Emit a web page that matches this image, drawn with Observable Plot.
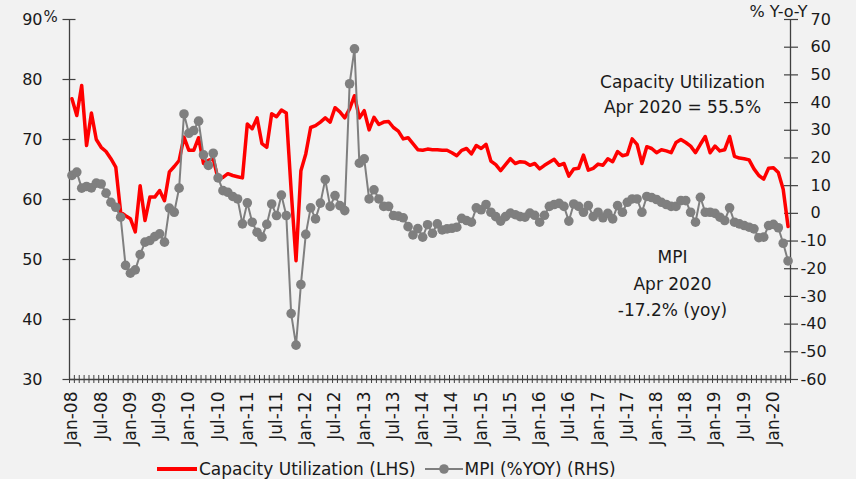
<!DOCTYPE html>
<html>
<head>
<meta charset="utf-8">
<script src="https://cdn.jsdelivr.net/npm/d3@7"></script>
<script src="https://cdn.jsdelivr.net/npm/@observablehq/plot@0.6"></script>
<style>
  html, body { margin: 0; padding: 0; background: #f2f2f2; }
  #chart { position: relative; width: 856px; height: 479px; overflow: hidden; background: #f2f2f2;
           font-family: "DejaVu Sans", sans-serif; color: #1a1a1a; }
  #legend { position: absolute; left: 157px; top: 457px; height: 24px; display: flex; align-items: center;
            font-size: 17px; white-space: nowrap; }
  #legend svg { display: block; }
  .lg-item { display: flex; align-items: center; }
</style>
</head>
<body>
<div id="chart"></div>
<script>
// ---- Data (monthly, Jan-08 .. Apr-20) ----
const capacity = [
  76.8, 74.0, 79.0, 69.0, 74.4, 70.0, 68.7, 68.0, 66.8, 65.4,
  57.9, 57.3, 56.8, 54.6, 62.3, 56.5, 60.4, 60.4, 61.5, 59.8,
  64.6, 65.5, 66.5, 70.4, 68.2, 68.2, 70.3, 66.0, 66.5, 66.8,
  63.4, 63.7, 64.3, 64.0, 63.8, 63.6, 72.6, 71.8, 73.6, 69.3,
  68.7, 74.3, 73.8, 74.9, 74.4, 61.5, 49.8, 64.8, 67.6, 72.0,
  72.3, 72.9, 73.6, 72.9, 75.3, 74.6, 73.6, 75.1, 77.3, 73.6,
  74.8, 71.6, 73.7, 72.5, 72.9, 73.0, 72.0, 71.4, 70.1, 70.3,
  69.3, 68.3, 68.2, 68.4, 68.3, 68.3, 68.2, 68.2, 67.8, 67.3,
  68.2, 68.5, 67.6, 69.0, 68.5, 69.2, 66.4, 65.8, 64.8, 65.8,
  66.8, 66.0, 66.3, 66.2, 65.7, 66.0, 65.1, 65.7, 66.2, 66.7,
  65.7, 66.0, 63.9, 65.1, 65.2, 67.4, 64.9, 65.2, 65.9, 65.7,
  66.8, 66.3, 68.0, 67.3, 67.5, 70.1, 69.2, 66.0, 68.8, 68.5,
  67.8, 68.3, 68.1, 67.8, 69.5, 70.0, 69.5, 68.9, 67.8, 69.2,
  70.5, 67.8, 68.9, 68.1, 68.3, 70.5, 67.2, 66.9, 66.8, 66.6,
  65.1, 64.0, 63.4, 65.2, 65.3, 64.5, 61.7, 55.5
];
const mpi = [
  13.7, 14.9, 9.1, 9.7, 9.2, 10.9, 10.6, 7.3, 4.0, 2.2,
  -1.4, -18.8, -21.6, -20.4, -14.9, -10.4, -9.8, -8.4, -7.4, -10.4,
  1.9, 0.4, 9.1, 35.9, 28.9, 29.9, 33.3, 21.1, 17.3, 21.7,
  12.8, 8.2, 7.6, 6.1, 5.2, -3.8, 3.8, -3.2, -6.8, -8.6,
  -4.0, 3.4, -0.8, 6.6, -0.8, -36.2, -47.6, -25.7, -7.6, 2.0,
  -2.0, 3.7, 12.2, 2.5, 6.4, 2.8, 1.0, 46.8, 59.4, 18.1,
  19.7, 5.2, 8.5, 5.2, 2.5, 2.5, -0.8, -1.0, -1.6, -4.8,
  -7.8, -5.5, -8.6, -4.1, -7.2, -3.8, -6.0, -5.6, -5.4, -5.0,
  -1.8, -2.6, -3.2, 2.0, 1.3, 3.2, 0.4, -1.2, -2.8, -1.2,
  0.1, -0.5, -1.2, -1.4, 0.1, -0.7, -3.2, -0.7, 2.5, 3.2,
  3.6, 2.5, -2.8, 3.4, 2.5, 0.4, 2.8, -1.2, 0.4, -1.6,
  0.0, -2.0, 2.8, 0.4, 4.0, 5.2, 5.2, 0.4, 6.1, 5.7,
  5.0, 4.0, 3.2, 2.5, 2.5, 4.6, 4.6, 0.4, -3.2, 5.8,
  0.4, 0.4, 0.0, -1.4, -2.6, 2.0, -3.2, -3.8, -4.4, -5.0,
  -5.6, -8.8, -8.6, -4.4, -4.0, -5.2, -10.8, -17.2
];
const tickLabels = [
  "Jan-08","Jul-08","Jan-09","Jul-09","Jan-10","Jul-10","Jan-11","Jul-11",
  "Jan-12","Jul-12","Jan-13","Jul-13","Jan-14","Jul-14","Jan-15","Jul-15",
  "Jan-16","Jul-16","Jan-17","Jul-17","Jan-18","Jul-18","Jan-19","Jul-19","Jan-20"
];
const labelEvery = 6;
const leftTicks = [30, 40, 50, 60, 70, 80, 90];
const rightTicks = [-60, -50, -40, -30, -20, -10, 0, 10, 20, 30, 40, 50, 60, 70];
const leftDomain = [30, 90];
const rightDomain = [-60, 70];

// ---- helpers ----
const toLeft = v => leftDomain[0] + (v - rightDomain[0]) * (leftDomain[1] - leftDomain[0]) / (rightDomain[1] - rightDomain[0]);
const fromLeft = v => rightDomain[0] + (v - leftDomain[0]) * (rightDomain[1] - rightDomain[0]) / (leftDomain[1] - leftDomain[0]);
const data = capacity.map((c, i) => ({i, c, m: mpi[i]}));
const xDomain = [-0.5, capacity.length - 0.5];
const boundaries = d3.range(capacity.length + 1).map(i => i - 0.5);
const labelIdx = tickLabels.map((_, k) => k * labelEvery);
const axisColor = "#404040";
const red = "#ff0000";
const grey = "#7f7f7f";

const chart = Plot.plot({
  width: 856, height: 455,
  marginLeft: 69, marginRight: 66, marginTop: 19, marginBottom: 76,
  style: {background: "transparent", fontFamily: "'DejaVu Sans', sans-serif", color: "#1a1a1a", overflow: "visible"},
  x: {type: "linear", domain: xDomain, label: null},
  y: {domain: leftDomain, label: null},
  marks: [
    Plot.ruleX(xDomain, {stroke: axisColor, strokeWidth: 1.3}),
    Plot.ruleY([leftDomain[0]], {stroke: axisColor, strokeWidth: 1.3}),
    Plot.axisX(boundaries, {anchor: "bottom", tickSize: 8, insetBottom: 4, fill: "none", stroke: axisColor, strokeWidth: 1, label: null}),
    Plot.axisX(labelIdx, {anchor: "bottom", tickSize: 0, tickRotate: -90, tickPadding: 12,
      tickFormat: d => tickLabels[Math.round(d / labelEvery)], fontSize: 17, label: null}),
    Plot.axisY(leftTicks, {anchor: "left", tickSize: 13, insetLeft: 6.5, fill: "none", stroke: axisColor, strokeWidth: 1.2, label: null}),
    Plot.axisY(leftTicks, {anchor: "left", tickSize: 0, tickPadding: 27, fontSize: 16, label: null}),
    Plot.axisY(rightTicks.map(toLeft), {anchor: "right", tickSize: 14, insetRight: 7, fill: "none", stroke: axisColor, strokeWidth: 1.2, label: null}),
    Plot.axisY(rightTicks.filter(v => v >= 0).map(toLeft), {anchor: "right", tickSize: 0, tickPadding: 20,
      tickFormat: v => String(Math.round(fromLeft(v))), fontSize: 16, label: null}),
    Plot.axisY(rightTicks.filter(v => v < 0).map(toLeft), {anchor: "right", tickSize: 0, tickPadding: 10,
      tickFormat: v => String(Math.round(fromLeft(v))), fontSize: 16, label: null}),
    // unit labels
    Plot.text(["%"], {frameAnchor: "top-left", dx: -26, dy: 2.5, textAnchor: "start", lineAnchor: "bottom", fontSize: 15}),
    Plot.text(["% Y-o-Y"], {frameAnchor: "top-right", dx: 17, dy: -3, textAnchor: "end", lineAnchor: "bottom", fontSize: 16}),
    // series
    Plot.lineY(data, {x: "i", y: "c", stroke: red, strokeWidth: 3.5}),
    Plot.line(data, {x: "i", y: d => toLeft(d.m), stroke: grey, strokeWidth: 2}),
    Plot.dot(data, {x: "i", y: d => toLeft(d.m), r: 4.8, fill: grey, stroke: "none"}),
    // annotations
    Plot.text(["Capacity Utilization"], {frameAnchor: "top-left", dx: 613, dy: 68.5, textAnchor: "middle", lineAnchor: "bottom", fontSize: 17}),
    Plot.text(["Apr 2020 = 55.5%"], {frameAnchor: "top-left", dx: 613, dy: 93.4, textAnchor: "middle", lineAnchor: "bottom", fontSize: 17}),
    Plot.text(["MPI"], {frameAnchor: "top-left", dx: 603, dy: 243.7, textAnchor: "middle", lineAnchor: "bottom", fontSize: 17}),
    Plot.text(["Apr 2020"], {frameAnchor: "top-left", dx: 603, dy: 270.2, textAnchor: "middle", lineAnchor: "bottom", fontSize: 17}),
    Plot.text(["-17.2% (yoy)"], {frameAnchor: "top-left", dx: 603, dy: 296.7, textAnchor: "middle", lineAnchor: "bottom", fontSize: 17})
  ]
});

const root = document.getElementById("chart");
root.appendChild(chart);

const legend = document.createElement("div");
legend.id = "legend";
legend.innerHTML = `
  <div class="lg-item">
    <svg width="42" height="12"><line x1="0" x2="40" y1="6" y2="6" stroke="${red}" stroke-width="4"/></svg>
    <span>Capacity Utilization (LHS)</span>
  </div>
  <div class="lg-item" style="margin-left:9px">
    <svg width="40" height="12"><line x1="0" x2="38" y1="6" y2="6" stroke="${grey}" stroke-width="2"/><circle cx="19" cy="6" r="4.8" fill="${grey}"/></svg>
    <span>MPI (%YOY) (RHS)</span>
  </div>`;
root.appendChild(legend);
</script>
</body>
</html>
